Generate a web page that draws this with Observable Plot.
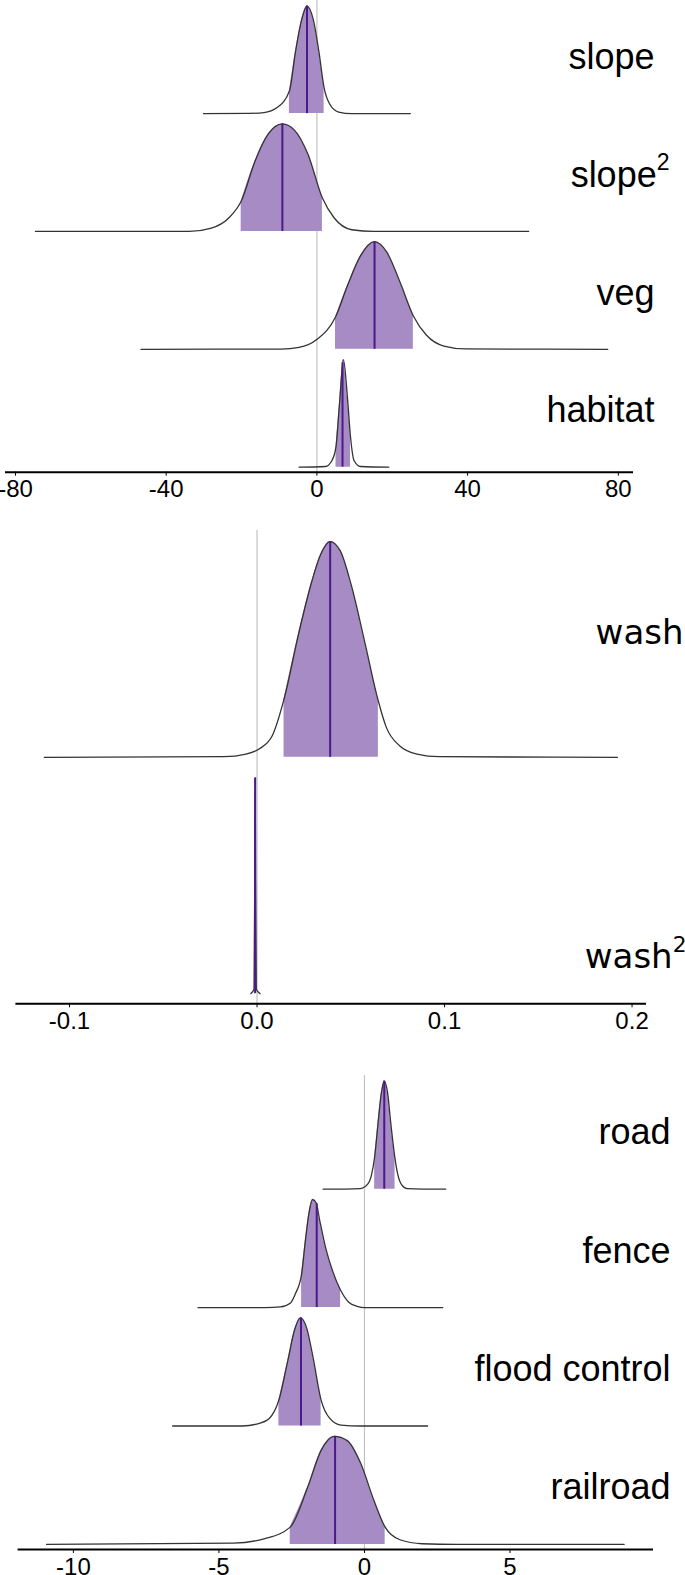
<!DOCTYPE html>
<html>
<head>
<meta charset="utf-8">
<script src="https://cdn.jsdelivr.net/npm/d3@7"></script>
<script src="https://cdn.jsdelivr.net/npm/@observablehq/plot@0.6"></script>
<style>
  html, body { margin: 0; padding: 0; background: #fff; }
  body { width: 685px; height: 1575px; position: relative; overflow: hidden; }
  .panel { position: absolute; left: 0; }
</style>
</head>
<body>
<div id="p1" class="panel" style="top:0px"></div>
<div id="p2" class="panel" style="top:510px"></div>
<div id="p3" class="panel" style="top:1050px"></div>
<script>
// ---------------- DATA ----------------
// Panel 1
const panel1Params = ["slope", "slope²", "veg", "habitat"];
const slopeX = [-30.1, -18, -14.05, -10.56, -7.3, -5.66, -4.14, -2.63, -1.0, 0.51, 1.91, 3.43, 5.76, 9.26, 24.8];
const slopeH = [0, 0.002, 0.009, 0.056, 0.21, 0.58, 0.86, 1, 0.88, 0.58, 0.24, 0.087, 0.015, 0, 0];
const slope2X = [-74.7, -33.9, -28.0, -23.4, -20.1, -16.4, -12.9, -9.16, -5.9, -2.4, 1.46, 4.6, 9.26, 15.1, 56.2];
const slope2H = [0, 0, 0.031, 0.125, 0.28, 0.656, 0.906, 1, 0.94, 0.72, 0.31, 0.125, 0.016, 0, 0];
const vegX = [-46.7, -9.5, -4.72, -0.05, 4.94, 8.1, 11.6, 15.3, 18.6, 22.1, 25.6, 29.1, 33.7, 39.5, 77.2];
const vegH = [0, 0.002, 0.017, 0.09, 0.30, 0.59, 0.87, 1, 0.9, 0.62, 0.31, 0.13, 0.03, 0.003, 0];
const habitatX = [-4.72, 2.26, 4.0, 5.07, 6.0, 7.04, 8.1, 8.92, 9.85, 11.6, 19.06];
const habitatH = [0, 0.006, 0.062, 0.19, 0.59, 1, 0.65, 0.28, 0.062, 0.006, 0];
const panel1Lo = [-7.3, -20.1, 4.94, 5.07];
const panel1Hi = [1.91, 1.46, 25.6, 8.92];
const panel1Median = [-2.63, -9.16, 15.3, 6.8];
const panel1MedianH = [1, 1, 1, 0.97];
const panel1Ticks = [-80, -40, 0, 40, 80];
const panel1TickLabels = ["-80", "-40", "0", "40", "80"];

// Panel 2
const panel2Params = ["wash", "wash²"];
const washX = [-0.1135, -0.0176, -0.0059, 0.0011, 0.0081, 0.0144, 0.0222, 0.0292, 0.0338, 0.039, 0.0444, 0.0502, 0.0573, 0.0647, 0.0689, 0.076, 0.0853, 0.097, 0.1922];
const washH = [0, 0.003, 0.015, 0.039, 0.10, 0.27, 0.574, 0.815, 0.938, 1, 0.957, 0.8, 0.54, 0.26, 0.14, 0.054, 0.015, 0.003, 0];
const wash2X = [-0.0033, -0.0016, -0.0012, -0.0010, -0.0008, -0.0004, 0.0016];
const wash2H = [0, 0.02, 0.55, 1, 0.55, 0.02, 0];
const panel2Lo = [0.0144, -0.0012];
const panel2Hi = [0.0647, -0.0008];
const panel2Median = [0.039, -0.001];
const panel2MedianH = [1, 1];
const panel2Ticks = [-0.1, 0, 0.1, 0.2];
const panel2TickLabels = ["-0.1", "0.0", "0.1", "0.2"];

// Panel 3
const panel3Params = ["road", "fence", "flood control", "railroad"];
const roadX = [-1.42, -0.14, 0.11, 0.24, 0.35, 0.47, 0.57, 0.68, 0.79, 0.90, 1.05, 1.15, 1.28, 1.47, 2.79];
const roadH = [0, 0.006, 0.046, 0.13, 0.30, 0.62, 0.87, 1, 0.90, 0.62, 0.28, 0.13, 0.04, 0.006, 0];
const fenceX = [-5.72, -3.4, -2.89, -2.54, -2.37, -2.16, -2.03, -1.91, -1.78, -1.66, -1.54, -1.34, -1.11, -0.82, -0.54, -0.25, 0, 2.69];
const fenceH = [0, 0, 0.006, 0.043, 0.13, 0.31, 0.62, 0.87, 1.0, 0.97, 0.81, 0.56, 0.35, 0.16, 0.05, 0.012, 0, 0];
const floodX = [-6.59, -4.2, -3.61, -3.27, -2.94, -2.63, -2.40, -2.20, -1.99, -1.77, -1.49, -1.19, -0.81, -0.13, 2.17];
const floodH = [0, 0, 0.025, 0.07, 0.24, 0.61, 0.89, 1, 0.91, 0.64, 0.24, 0.07, 0.009, 0, 0];
const railroadX = [-10.92, -4.51, -3.45, -2.55, -1.95, -1.49, -1.04, -0.59, -0.13, 0.32, 0.71, 1.22, 1.98, 3.19, 8.92];
const railroadH = [0, 0.012, 0.052, 0.16, 0.53, 0.87, 1, 0.96, 0.75, 0.41, 0.16, 0.043, 0.006, 0, 0];
const panel3Lo = [0.35, -2.16, -2.94, -2.55];
const panel3Hi = [1.05, -0.82, -1.49, 0.71];
const panel3Median = [0.68, -1.64, -2.18, -1.01];
const panel3MedianH = [1, 0.96, 1, 1];
const panel3Ticks = [-10, -5, 0, 5];
const panel3TickLabels = ["-10", "-5", "0", "5"];

// ---------------- DRAWING ----------------
const W = 685;
function drawPanel(cfg) {
  const n = cfg.params.length;
  const RH = 0.913;               // ridge height relative to row spacing
  const yMin = -0.043, yMax = n - 1 + 0.96;
  const rows = [], fills = [], meds = [];
  cfg.params.forEach((p, i) => {
    const k = n - 1 - i;
    cfg.xs[i].forEach((x, j) => {
      const r = {param: p, base: k, x, y: k + RH * cfg.hs[i][j]};
      rows.push(r);
      if (x >= cfg.lo[i] - 1e-12 && x <= cfg.hi[i] + 1e-12) fills.push(r);
    });
    meds.push({x: cfg.med[i], y1: k, y2: k + RH * cfg.medH[i]});
  });
  const [d0, d1] = cfg.domain;
  const pxToX = px => d0 + (px - cfg.ml) / (W - cfg.ml - cfg.mr) * (d1 - d0);
  const labels = cfg.params.map((p, i) => ({
    label: p,
    x: pxToX(cfg.labelRight + (p.includes("²") ? cfg.supShift : 0)),
    y: n - 1 - i + cfg.labelOffset[i]
  }));
  const tickMap = new Map(cfg.ticks.map((t, i) => [t, cfg.tickLabels[i]]));
  const chart = Plot.plot({
    width: W, height: cfg.height,
    marginLeft: cfg.ml, marginRight: cfg.mr, marginTop: cfg.mt, marginBottom: cfg.mb,
    style: {fontFamily: "'Liberation Sans', Arial, Helvetica, sans-serif", fontSize: "24px", color: "#000", background: "#fff"},
    x: {domain: cfg.domain, ticks: cfg.ticks, tickFormat: d => tickMap.get(d), tickSize: 4, tickPadding: 4, label: null},
    y: {domain: [yMin, yMax], axis: null},
    marks: [
      Plot.ruleX([0], {stroke: "#c2c2c2", strokeWidth: 1.2}),
      Plot.areaY(fills, {x: "x", y1: "base", y2: "y", z: "param", fill: "#a68bc5", curve: "monotone-x"}),
      Plot.lineY(rows, {x: "x", y: "y", z: "param", stroke: "#333", strokeWidth: 1.3, curve: "monotone-x"}),
      Plot.ruleX(meds, {x: "x", y1: "y1", y2: "y2", stroke: "#4b1a87", strokeWidth: 2}),
      Plot.ruleY([yMin], {stroke: "#000", strokeWidth: 2}),
      Plot.text(labels, {x: "x", y: "y", text: "label", textAnchor: "end", lineAnchor: "bottom",
        fontSize: cfg.labelSize, fontFamily: cfg.labelFont, fill: "#000"})
    ]
  });
  // render the squared labels with a true superscript
  d3.select(chart).selectAll("text").each(function () {
    const t = this.textContent;
    if (t.includes("²") && this.childElementCount === 0) {
      const s = d3.select(this);
      s.text(t.replace("²", ""));
      s.append("tspan").attr("font-size", "0.64em").attr("dy", "-0.72em").text("2");
    }
  });
  document.getElementById(cfg.id).appendChild(chart);
}

drawPanel({
  id: "p1", height: 505, ml: 5, mr: 52, mt: 0, mb: 33.3,
  domain: [-82.65, 84.03],
  params: panel1Params,
  xs: [slopeX, slope2X, vegX, habitatX], hs: [slopeH, slope2H, vegH, habitatH],
  lo: panel1Lo, hi: panel1Hi, med: panel1Median, medH: panel1MedianH,
  ticks: panel1Ticks, tickLabels: panel1TickLabels,
  labelRight: 654, supShift: 15, labelOffset: [0.38, 0.38, 0.38, 0.38],
  labelSize: 36, labelFont: "'Liberation Sans', Arial, sans-serif"
});
drawPanel({
  id: "p2", height: 526, ml: 15.4, mr: 39, mt: 20, mb: 32.7,
  domain: [-0.1286, 0.2077],
  params: panel2Params,
  xs: [washX, wash2X], hs: [washH, wash2H],
  lo: panel2Lo, hi: panel2Hi, med: panel2Median, medH: panel2MedianH,
  ticks: panel2Ticks, tickLabels: panel2TickLabels,
  labelRight: 683, supShift: 3, labelOffset: [0.48, 0.11],
  labelSize: 34, labelFont: "'DejaVu Sans', Verdana, sans-serif"
});
drawPanel({
  id: "p3", height: 525, ml: 17.6, mr: 32, mt: 25, mb: 26,
  domain: [-11.90, 9.93],
  params: panel3Params,
  xs: [roadX, fenceX, floodX, railroadX], hs: [roadH, fenceH, floodH, railroadH],
  lo: panel3Lo, hi: panel3Hi, med: panel3Median, medH: panel3MedianH,
  ticks: panel3Ticks, tickLabels: panel3TickLabels,
  labelRight: 670, supShift: 0, labelOffset: [0.38, 0.38, 0.38, 0.38],
  labelSize: 36, labelFont: "'Liberation Sans', Arial, sans-serif"
});
</script>
</body>
</html>
